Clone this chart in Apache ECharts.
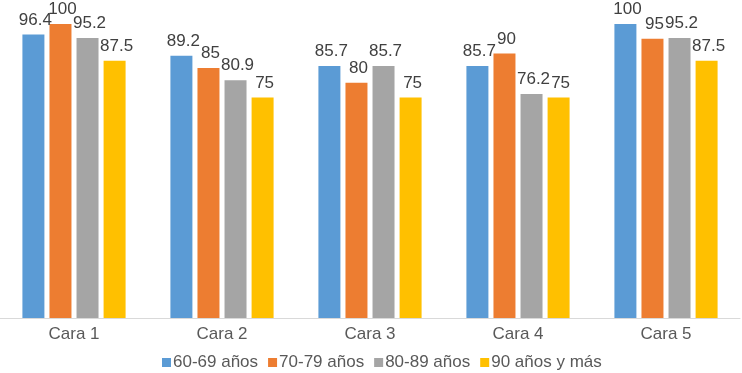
<!DOCTYPE html>
<html>
<head>
<meta charset="utf-8">
<script src="https://cdn.jsdelivr.net/npm/echarts@6/dist/echarts.min.js"></script>
<style>
  html, body { margin: 0; padding: 0; background: #fff; }
  #chart { width: 742px; height: 373px; }
</style>
</head>
<body>
<div id="chart"></div>
<script>
// categories and series values
const categories = ['Cara 1', 'Cara 2', 'Cara 3', 'Cara 4', 'Cara 5'];
const s6069 = [96.4, 89.2, 85.7, 85.7, 100];
const s7079 = [100, 85, 80, 90, 95];
const s8089 = [95.2, 80.9, 85.7, 76.2, 95.2];
const s90 = [87.5, 75, 75, 75, 87.5];

const seriesNames = ['60-69 años', '70-79 años', '80-89 años', '90 años y más'];
const seriesData = [s6069, s7079, s8089, s90];
const colors = ['#5B9BD5', '#ED7D31', '#A5A5A5', '#FFC000'];

var myChart = echarts.init(document.getElementById('chart'));

myChart.setOption({
  animation: false,
  backgroundColor: '#ffffff',
  grid: {
    left: 0,
    right: 2,
    top: 24,
    bottom: 55,
    containLabel: false
  },
  legend: {
    data: seriesNames,
    top: 354,
    left: 162,
    padding: 0,
    itemWidth: 9,
    itemHeight: 9,
    itemGap: 10,
    icon: 'rect',
    textStyle: {
      color: '#595959',
      fontSize: 17,
      fontFamily: 'Liberation Sans, Arial, sans-serif',
      padding: [0, 0, 0, -3]
    }
  },
  xAxis: {
    type: 'category',
    data: categories,
    axisTick: {show: false},
    axisLine: {lineStyle: {color: '#D9D9D9', width: 1}},
    axisLabel: {
      color: '#595959',
      fontSize: 17,
      margin: 8,
      fontFamily: 'Liberation Sans, Arial, sans-serif'
    }
  },
  yAxis: {
    type: 'value',
    min: 0,
    max: 100,
    show: false,
    splitLine: {show: false}
  },
  series: seriesData.map(function (d, i) {
    return {
      name: seriesNames[i],
      type: 'bar',
      data: d,
      barWidth: 22,
      barGap: '23%',
      barCategoryGap: '30%',
      itemStyle: {color: colors[i]},
      label: {
        show: true,
        position: 'top',
        distance: 6,
        offset: [2, 0],
        color: '#404040',
        fontSize: 17,
        fontFamily: 'Liberation Sans, Arial, sans-serif'
      }
    };
  })
});
</script>
</body>
</html>
